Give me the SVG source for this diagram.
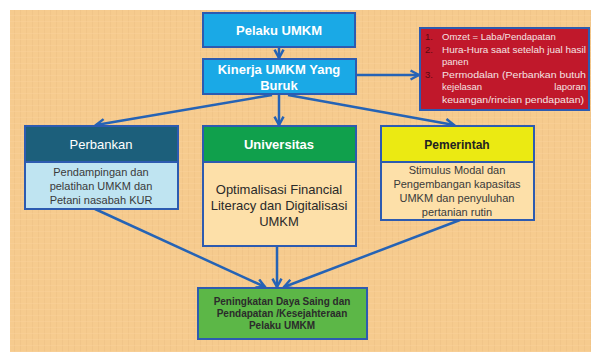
<svg xmlns="http://www.w3.org/2000/svg" width="591" height="352" viewBox="0 0 591 352">
<defs>
<marker id="ah" viewBox="0 0 10 10" refX="8.5" refY="5" markerWidth="4.5" markerHeight="4.5" orient="auto" markerUnits="strokeWidth">
<path d="M1,1 L8.5,5 L1,9" fill="none" stroke="#2563b5" stroke-width="2.2"/>
</marker>
<pattern id="tex" width="6" height="6" patternUnits="userSpaceOnUse">
<rect width="6" height="6" fill="#f6cb8e"/>
<rect x="2" width="1" height="6" fill="#efc285" opacity="0.6"/>
<rect y="3" width="6" height="1" fill="#f9d29a" opacity="0.5"/>
</pattern>
</defs>
<style>
text{font-family:"Liberation Sans",Arial,sans-serif;text-anchor:middle}
.box{stroke:#2d5bb0;stroke-width:2}
.conn{fill:none;stroke:#2563b5;stroke-width:2.5;marker-end:url(#ah)}
.wt{fill:#ffffff;font-weight:bold;font-size:13px}
.bd{fill:#3a3a3a;font-size:11px}
.rl{fill:#f4e3e3;font-size:9.5px;text-anchor:start}
.rn{fill:#5a0a10;font-size:9.5px;text-anchor:start}
</style>
<rect x="0" y="0" width="591" height="352" fill="#ffffff"/>
<rect x="10" y="10" width="581" height="342" fill="url(#tex)"/>

<g id="connectors">
<line class="conn" x1="279" y1="47" x2="279" y2="58"/>
<line class="conn" x1="356" y1="75" x2="419" y2="75"/>
<line class="conn" x1="279" y1="95" x2="279" y2="125"/>
<line class="conn" x1="272" y1="95" x2="96" y2="125"/>
<line class="conn" x1="288" y1="95" x2="454" y2="125"/>
<line class="conn" x1="95" y1="209" x2="265" y2="287"/>
<line class="conn" x1="277" y1="246" x2="277" y2="287"/>
<line class="conn" x1="460" y1="220" x2="284" y2="287"/>
</g>

<g id="pelaku">
<rect class="box" x="203" y="13" width="152" height="34" fill="#1aa9e6"/>
<text class="wt" x="279" y="35">Pelaku UMKM</text>
</g>

<g id="kinerja">
<rect class="box" x="203" y="59" width="153" height="35" fill="#1aa9e6"/>
<text class="wt" x="279" y="74">Kinerja UMKM Yang</text>
<text class="wt" x="279" y="90">Buruk</text>
</g>

<g id="masalah">
<rect class="box" x="420" y="28" width="169" height="82" fill="#c0182b"/>
<text class="rn" x="425" y="40">1.</text>
<text class="rl" x="442" y="40">Omzet = Laba/Pendapatan</text>
<text class="rn" x="425" y="52.5">2.</text>
<text class="rl" x="442" y="52.5" textLength="144" lengthAdjust="spacingAndGlyphs">Hura-Hura saat setelah jual hasil</text>
<text class="rl" x="442" y="65">panen</text>
<text class="rn" x="425" y="77.5">3.</text>
<text class="rl" x="442" y="77.5" textLength="144" lengthAdjust="spacingAndGlyphs">Permodalan (Perbankan butuh</text>
<text class="rl" x="442" y="90">kejelasan</text>
<text class="rl" x="586" y="90" style="text-anchor:end">laporan</text>
<text class="rl" x="442" y="102.5" textLength="142" lengthAdjust="spacingAndGlyphs">keuangan/rincian pendapatan)</text>
</g>

<g id="perbankan">
<rect class="box" x="25" y="126" width="153" height="36" fill="#1c5f7b"/>
<rect class="box" x="25" y="162" width="153" height="47" fill="#bfe4f1"/>
<text class="wt" x="101" y="149" style="font-weight:normal">Perbankan</text>
<text class="bd" x="101" y="176">Pendampingan dan</text>
<text class="bd" x="101" y="190">pelatihan UMKM dan</text>
<text class="bd" x="101" y="204">Petani nasabah KUR</text>
</g>

<g id="universitas">
<rect class="box" x="203" y="126" width="153" height="36" fill="#10a04c"/>
<rect class="box" x="203" y="162" width="153" height="84" fill="#fde0a9"/>
<text class="wt" x="279" y="149">Universitas</text>
<text x="279" y="194" style="fill:#2a2a2a;font-size:13px">Optimalisasi Financial</text>
<text x="279" y="210" style="fill:#2a2a2a;font-size:13px">Literacy dan Digitalisasi</text>
<text x="279" y="226" style="fill:#2a2a2a;font-size:13px">UMKM</text>
</g>

<g id="pemerintah">
<rect class="box" x="381" y="126" width="153" height="36" fill="#ebea12"/>
<rect class="box" x="381" y="162" width="153" height="58" fill="#fde0a9"/>
<text x="457" y="149" style="fill:#222;font-weight:bold;font-size:12px">Pemerintah</text>
<text class="bd" x="457" y="174">Stimulus Modal dan</text>
<text class="bd" x="457" y="188">Pengembangan kapasitas</text>
<text class="bd" x="457" y="202">UMKM dan penyuluhan</text>
<text class="bd" x="457" y="216">pertanian rutin</text>
</g>

<g id="peningkatan">
<rect class="box" x="198" y="288" width="169" height="51" fill="#5cb747"/>
<text x="282" y="305" style="fill:#2b2b2b;font-weight:bold;font-size:10px">Peningkatan Daya Saing dan</text>
<text x="282" y="317" style="fill:#2b2b2b;font-weight:bold;font-size:10px">Pendapatan /Kesejahteraan</text>
<text x="282" y="329" style="fill:#2b2b2b;font-weight:bold;font-size:10px">Pelaku UMKM</text>
</g>
</svg>
